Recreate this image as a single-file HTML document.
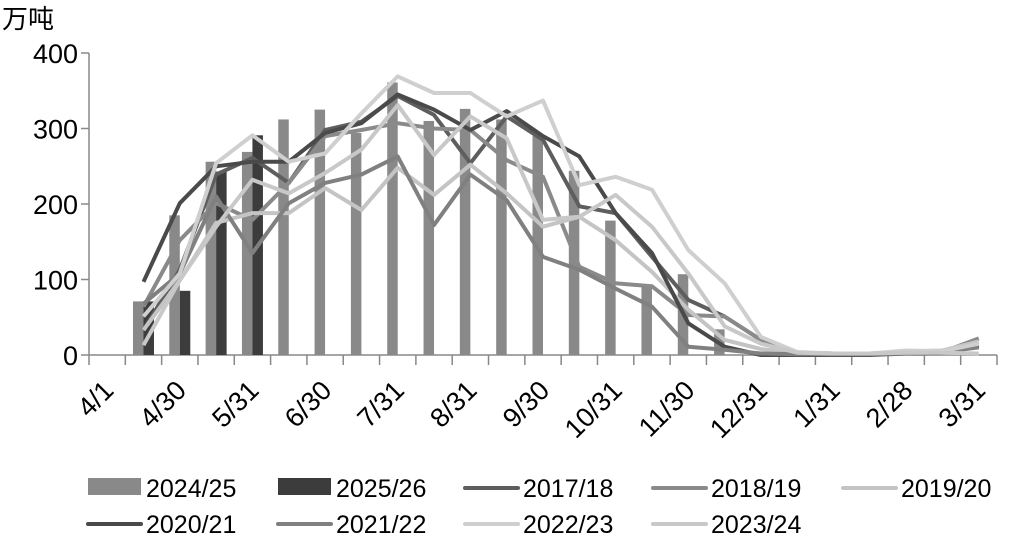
<!DOCTYPE html>
<html><head><meta charset="utf-8"><style>
html,body{margin:0;padding:0;background:#fff;}
svg{display:block;font-family:"Liberation Sans","Noto Sans CJK SC",sans-serif;}
</style></head><body>
<svg id="chart" width="1024" height="545" viewBox="0 0 1024 545">
<text x="2" y="28" font-size="26" fill="#000">万吨</text>
<g id="axes"></g><g id="bars"></g><g id="lines"></g><g id="legend"></g>
</svg>
<script>
const categoriesCount = 25;
const xTickLabels = ["4/1","4/30","5/31","6/30","7/31","8/31","9/30","10/31","11/30","12/31","1/31","2/28","3/31"];
const yTicks = [0,100,200,300,400];
const bar2425 = [null,71,185,256,269,312,325,294,361,310,326,312,290,244,178,91,107,34,null,null,null,null,null,null,null];
const bar2526 = [null,71,85,243,291,null,null,null,null,null,null,null,null,null,null,null,null,null,null,null,null,null,null,null,null];
const s1718 = [null,33,113,239,261,228,298,309,343,318,254,316,285,197,188,130,73,51,20,3,2,2,2,3,12];
const s1819 = [null,64,152,201,179,228,290,298,307,300,298,258,236,117,95,91,53,51,20,3,2,2,2,4,22];
const s1920 = [null,33,99,175,188,188,221,192,248,212,252,214,170,183,152,110,60,20,8,2,2,2,5,6,18];
const s2021 = [null,97,201,250,256,256,294,307,345,325,298,323,290,263,188,135,42,11,0,0,0,0,2,3,14];
const s2122 = [null,68,108,210,135,201,228,239,263,172,239,205,130,113,88,64,11,7,2,1,1,1,2,4,10];
const s2223 = [null,51,108,254,291,256,267,320,369,347,347,316,337,225,236,219,139,95,24,4,2,2,6,5,15];
const s2324 = [null,13,99,170,232,214,241,272,331,265,316,287,179,183,212,170,108,38,15,3,2,2,3,3,2];
const x0=89, x1=997, y0=355, yTop=53, yMax=400;
const step=(x1-x0)/categoriesCount;
const X=i=>x0+step*(i+0.5);
const Y=v=>y0-(v/yMax)*(y0-yTop);
const NS="http://www.w3.org/2000/svg";
function mk(tag,attrs,parent){const e=document.createElementNS(NS,tag);for(const k in attrs)e.setAttribute(k,attrs[k]);parent.appendChild(e);return e;}
const axes=document.getElementById('axes');
const ya=mk('line',{x1:x0,y1:yTop,x2:x0,y2:y0,stroke:'#888','stroke-width':1.5},axes);


const xa=mk('line',{x1:x0,y1:y0,x2:x1,y2:y0,stroke:'#888','stroke-width':1.5},axes);


yTicks.forEach(v=>{
 const t=mk('line',{x1:x0-8,y1:Y(v),x2:x0,y2:Y(v),stroke:'#888','stroke-width':1.5},axes);
 
 
 const l=mk('text',{x:78,y:Y(v)+10,'font-size':27,'text-anchor':'end',fill:'#000'},axes);
 l.textContent=v;
 
 
});
for(let i=0;i<=categoriesCount;i++){
 const t=mk('line',{x1:x0+step*i,y1:y0,x2:x0+step*i,y2:y0+10,stroke:'#888','stroke-width':1.5},axes);
 
 
}
xTickLabels.forEach((s,k)=>{
 const cx=X(k*2)+8, cy=392;
 const l=mk('text',{x:cx,y:cy,'font-size':27,'text-anchor':'end',fill:'#000',transform:`rotate(-45 ${cx} ${cy})`},axes);
 l.textContent=s;
 
 
});
const bars=document.getElementById('bars');
const bw=10.5;
bar2425.forEach((v,i)=>{ if(v==null)return;
 const r=mk('rect',{x:X(i)-bw,y:Y(v),width:bw,height:y0-Y(v),fill:'#898989'},bars);
 
 
});
bar2526.forEach((v,i)=>{ if(v==null)return;
 const r=mk('rect',{x:X(i),y:Y(v),width:bw,height:y0-Y(v),fill:'#3c3c3c'},bars);
 
 
});
const series=[
 ['2017/18',s1718,'#5e5e5e'],['2018/19',s1819,'#8a8a8a'],['2019/20',s1920,'#c4c4c4'],
 ['2020/21',s2021,'#4a4a4a'],['2021/22',s2122,'#808080'],['2022/23',s2223,'#cfcfcf'],['2023/24',s2324,'#c8c8c8']];
const lines=document.getElementById('lines');
series.forEach(([name,d,c])=>{
 const pts=[];d.forEach((v,i)=>{if(v!=null)pts.push(X(i).toFixed(1)+','+Y(v).toFixed(1));});
 const p=mk('polyline',{points:pts.join(' '),fill:'none',stroke:c,'stroke-width':4,'stroke-linejoin':'round'},lines);
 
 
});
const lg=document.getElementById('legend');
const items=[
 ['2024/25','bar','#898989',88,487],['2025/26','bar','#3c3c3c',278,487],['2017/18','line','#5e5e5e',465,487],['2018/19','line','#8a8a8a',653,487],['2019/20','line','#c4c4c4',843,487],
 ['2020/21','line','#4a4a4a',88,523],['2021/22','line','#808080',278,523],['2022/23','line','#cfcfcf',465,523],['2023/24','line','#c8c8c8',653,523]];
items.forEach(([n,t,c,x,y])=>{
 const g=mk('g',{},lg);
 
 
 if(t==='bar'){mk('rect',{x:x,y:y-9,width:53,height:17,fill:c},g);}
 else{mk('line',{x1:x,y1:y+1,x2:x+53,y2:y+1,stroke:c,'stroke-width':4,'stroke-linecap':'round'},g);}
 const tx=mk('text',{x:x+58,y:y+10,'font-size':25,fill:'#000'},g);
 tx.textContent=n;
});
</script>
</body></html>
